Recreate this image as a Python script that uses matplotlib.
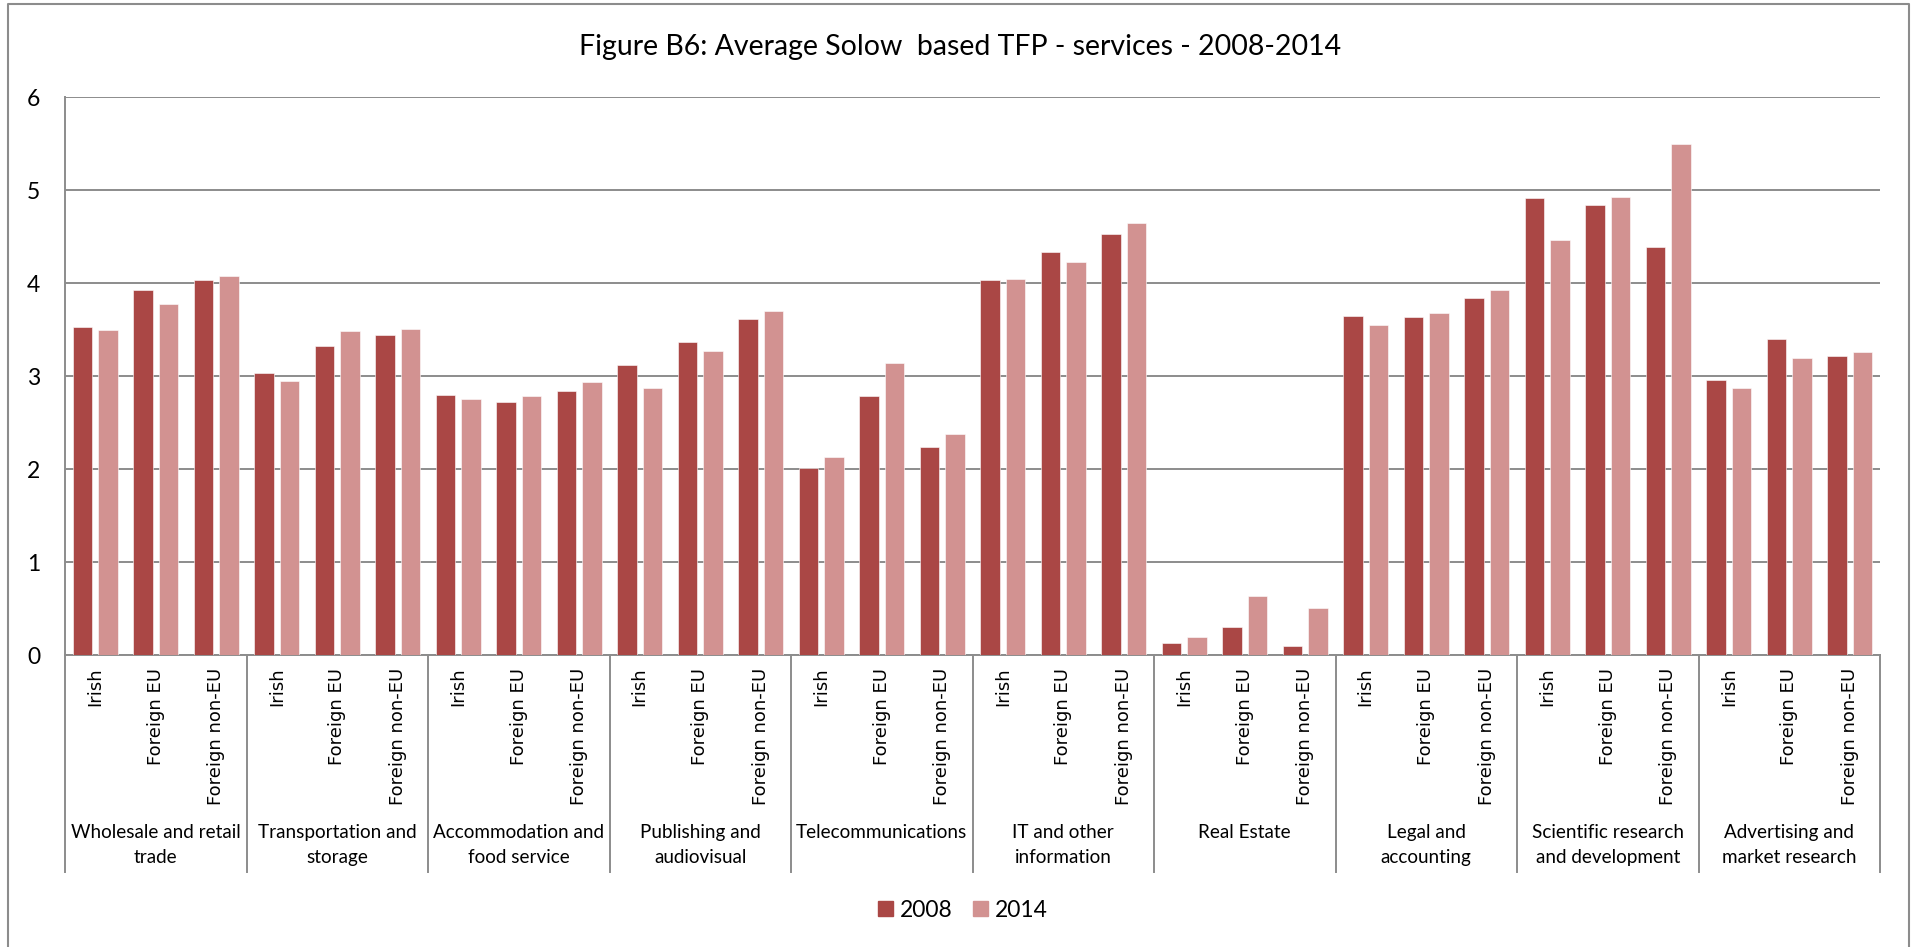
import numpy as np
import matplotlib
matplotlib.use('Agg')
import matplotlib.pyplot as plt
from matplotlib.transforms import blended_transform_factory
from matplotlib.patches import Patch
from matplotlib.lines import Line2D

sectors = ['Wholesale and retail\ntrade', 'Transportation and\nstorage',
           'Accommodation and\nfood service', 'Publishing and\naudiovisual',
           'Telecommunications', 'IT and other\ninformation', 'Real Estate',
           'Legal and\naccounting', 'Scientific research\nand development',
           'Advertising and\nmarket research']
ownership = ['Irish', 'Foreign EU', 'Foreign non-EU']

tfp_2008 = [3.53, 3.92, 4.03,
            3.03, 3.32, 3.44,
            2.80, 2.72, 2.84,
            3.12, 3.37, 3.61,
            2.01, 2.78, 2.24,
            4.03, 4.33, 4.53,
            0.13, 0.30, 0.10,
            3.65, 3.63, 3.84,
            4.91, 4.84, 4.39,
            2.96, 3.40, 3.22]
tfp_2014 = [3.49, 3.77, 4.08,
            2.95, 3.48, 3.51,
            2.75, 2.79, 2.94,
            2.87, 3.27, 3.70,
            2.13, 3.14, 2.38,
            4.04, 4.23, 4.64,
            0.19, 0.63, 0.51,
            3.55, 3.68, 3.93,
            4.46, 4.93, 5.49,
            2.87, 3.19, 3.26]

c08 = '#aa4745'
c14 = '#d29291'
grey = '#8c8c8c'
main_font = ['Lato', 'DejaVu Sans']

W, H = 1921, 947
fig = plt.figure(figsize=(W / 100, H / 100), dpi=100)
ax = fig.add_axes([65 / W, 1 - 655 / H, (1880 - 65) / W, 558 / H])

x = np.arange(len(tfp_2008))
bw = 0.32
ax.bar(x - 0.21, tfp_2008, bw, color=c08, edgecolor='white', linewidth=0.4, zorder=3)
ax.bar(x + 0.21, tfp_2014, bw, color=c14, edgecolor='white', linewidth=0.4, zorder=3)

ax.set_xlim(-0.5, len(x) - 0.5)
ax.set_ylim(0, 6)
ax.set_yticks(range(7))
ax.set_yticklabels([str(v) for v in range(7)], fontsize=16.5, family=main_font)
ax.yaxis.grid(True, color=grey, linewidth=1.4, zorder=0)
ax.tick_params(axis='y', length=0, pad=18)

ax.set_xticks(x)
ax.set_xticklabels(ownership * len(sectors), rotation=90, fontsize=13,
                   family='DejaVu Sans', va='top', ha='center')
ax.tick_params(axis='x', length=0, pad=9)

for s in ['top', 'right']:
    ax.spines[s].set_visible(False)
for s in ['left', 'bottom']:
    ax.spines[s].set_color(grey)
    ax.spines[s].set_linewidth(1.4)

# two-level category axis: separators and sector names
trans = blended_transform_factory(ax.transData, ax.transAxes)
for b in np.arange(-0.5, len(x), 3):
    ax.add_line(Line2D([b, b], [0, -217 / 558], transform=trans, color=grey,
                       linewidth=1.4, clip_on=False))
for i, name in enumerate(sectors):
    ax.text(3 * i + 1, -0.303, name, transform=trans, ha='center', va='top',
            fontsize=13.6, family=main_font, linespacing=1.58)

fig.text(0.5, 1 - 47 / H, 'Figure B6: Average Solow  based TFP - services - 2008-2014',
         ha='center', va='center', fontsize=20.5, family=main_font)

handles = [Patch(color=c08, label='2008'), Patch(color=c14, label='2014')]
fig.legend(handles=handles, loc='center', bbox_to_anchor=(963 / W, 1 - 910 / H),
           ncol=2, frameon=False, prop={'family': main_font, 'size': 16.5},
           handlelength=0.66, handleheight=0.66, handletextpad=0.3,
           columnspacing=0.9)

# outer chart border
fx = [8 / W, 8 / W, 1909 / W, 1909 / W]
fy = [-0.01, 1 - 4 / H, 1 - 4 / H, -0.01]
fig.add_artist(Line2D(fx, fy, transform=fig.transFigure, color=grey, linewidth=1.5))

fig.savefig('out.png', dpi=100, facecolor='white')
